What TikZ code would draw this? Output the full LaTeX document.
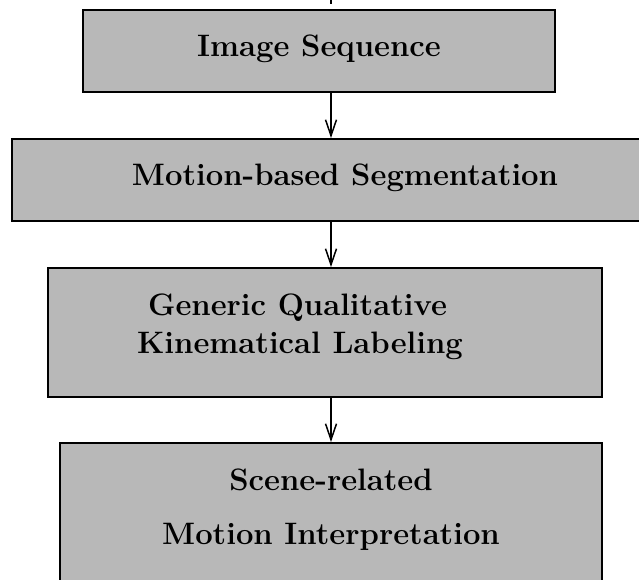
\documentclass[tikz,border=0pt]{standalone}
\usetikzlibrary{arrows.meta}
\begin{document}
\begin{tikzpicture}[x=1pt,y=-1pt,
  box/.style={draw=black, line width=2pt, fill=black!28, rectangle, inner sep=0pt,
    font=\fontsize{31}{38}\selectfont\bfseries},
  oneline/.style={text height=21.5pt, text depth=11.5pt},
  flow/.style={-{Straight Barb[length=16pt,width=11pt,line width=1.5pt]}, line width=1.5pt}]
\useasboundingbox (0,0) rectangle (639,579);
\clip (0,0) rectangle (639,579);
\coordinate (ax) at (331,0);
\coordinate (stubtop) at (331,0);
\coordinate (stubend) at (331,4);
\node[box, oneline, minimum width=472pt, minimum height=82pt] (b1) at (319,51) {Image Sequence};
\node[box, oneline, minimum width=666pt, minimum height=82pt] (b2) at (345,180) {Motion-based Segmentation};
\node[box, align=left, minimum width=554pt, minimum height=129pt] (b3) at (325,332.5)
  {\hspace*{11pt}Generic Qualitative\\Kinematical Labeling\hspace*{50pt}\rule[-18.5pt]{0pt}{0pt}};
\node[box, align=center, minimum width=542pt, minimum height=157pt] (b4) at (331,521.5)
  {Scene-related\\[16pt]Motion Interpretation\rule[-30.5pt]{0pt}{0pt}};
\draw[line width=1.5pt] (stubtop) -- (stubend);
\draw[flow] (b1.south -| ax) -- (b2.north -| ax);
\draw[flow] (b2.south -| ax) -- (b3.north -| ax);
\draw[flow] (b3.south -| ax) -- (b4.north -| ax);
\end{tikzpicture}
\end{document}
